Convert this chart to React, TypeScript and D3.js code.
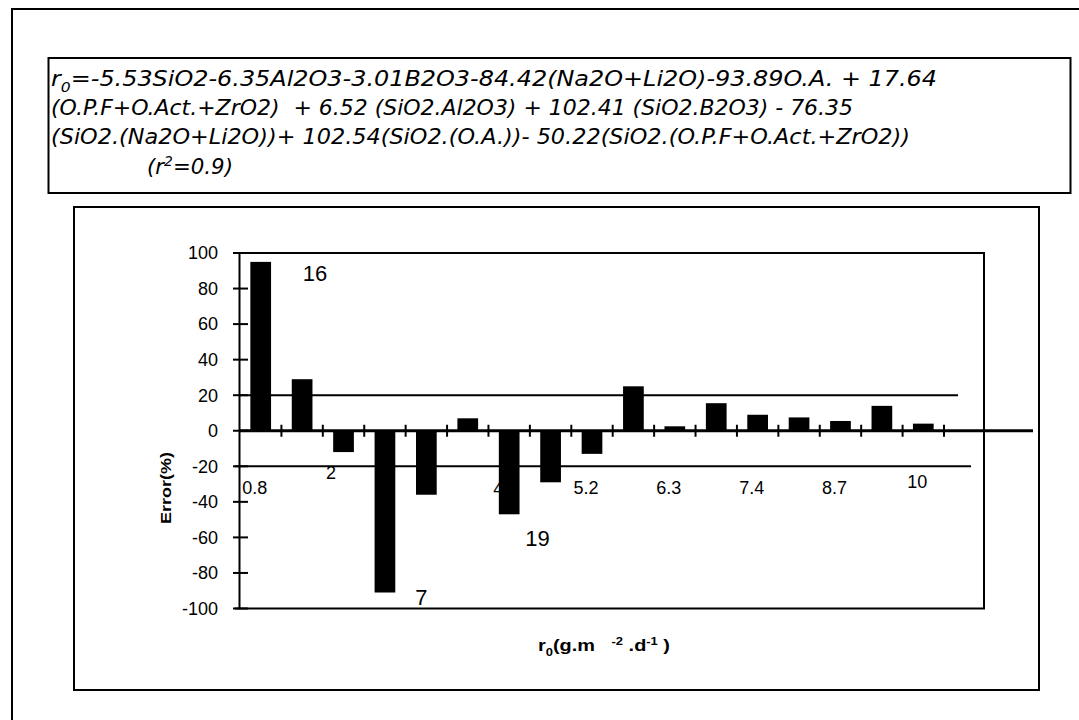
import React from "react";
import * as d3 from "d3";

// Relative error (%) of the fitted dissolution rate, one bar per glass, sorted by r0
const errorPct = [95, 29, -12, -91, -36, 7, -47, -29, -13, 25, 2.5, 15.5, 9, 7.5, 5.5, 14, 4];
// r0 values printed under selected bars
const r0Labels = ["0.8", "", "2", "", "", "", "4", "", "5.2", "", "6.3", "", "7.4", "", "8.7", "", "10"];
const yTickValues = [-100, -80, -60, -40, -20, 0, 20, 40, 60, 80, 100];
const limitValues = [20, -20];
// glass numbers written next to the worst-fitted bars
const sampleTags = [
  { index: 0, tag: "16" },
  { index: 3, tag: "7" },
  { index: 6, tag: "19" },
];

type Seg = { t: string; s?: "sub" | "sup" };
const equationLines: Seg[][] = [
  [{ t: "r" }, { t: "0", s: "sub" }, { t: "=-5.53SiO2-6.35Al2O3-3.01B2O3-84.42(Na2O+Li2O)-93.89O.A. + 17.64" }],
  [{ t: "(O.P.F+O.Act.+ZrO2)  + 6.52 (SiO2.Al2O3) + 102.41 (SiO2.B2O3) - 76.35" }],
  [{ t: "(SiO2.(Na2O+Li2O))+ 102.54(SiO2.(O.A.))- 50.22(SiO2.(O.P.F+O.Act.+ZrO2))" }],
  [{ t: "(r" }, { t: "2", s: "sup" }, { t: "=0.9)" }],
];
const xTitle: Seg[] = [
  { t: "r" }, { t: "0", s: "sub" }, { t: "(g.m   " }, { t: "-2", s: "sup" }, { t: " .d" }, { t: "-1", s: "sup" }, { t: " )" },
];

// ---- layout ----
const W = 1079;
const H = 720;
const eqLayout = [
  { x: 51, y: 86, w: 886 },
  { x: 51, y: 115, w: 802 },
  { x: 51, y: 144, w: 859 },
  { x: 147, y: 174, w: 86 },
];
const plot = { left: 240, right: 944, top: 253, bottom: 608.5, frameRight: 984, axisEnd: 1033 };
const limitExtent: Record<string, [number, number]> = { "20": [240, 958], "-20": [235, 971] };
const tagOffsets = [
  { dx: 44, dy: 11 },
  { dx: 26, dy: 5 },
  { dx: 18, dy: 24 },
];
const labelNudge: Record<string, { dx: number; cy: number }> = {
  "2": { dx: -12.5, cy: 473 },
  "4": { dx: -11, cy: 489 },
  "10": { dx: -6, cy: 482 },
};

function Segs({ segs, size }: { segs: Seg[]; size: number }) {
  const shift = size * 0.3;
  const out: React.ReactNode[] = [];
  let cur = 0;
  segs.forEach((sg, k) => {
    const target = sg.s === "sub" ? shift : sg.s === "sup" ? -size * 0.4 : 0;
    const dy = target - cur;
    cur = target;
    out.push(
      <tspan key={k} dy={dy || undefined} fontSize={sg.s ? size * 0.65 : undefined}>
        {sg.t}
      </tspan>
    );
  });
  return <>{out}</>;
}

export default function App() {
  const idx = d3.range(errorPct.length);
  const x = d3
    .scaleBand<number>()
    .domain(idx)
    .range([plot.left, plot.right])
    .paddingInner(0.5)
    .paddingOuter(0.25);
  const y = d3.scaleLinear().domain([-100, 100]).range([plot.bottom, plot.top]);
  const bw = x.bandwidth();
  const y0 = y(0);
  const boundaries = idx.map((i) => plot.left + (i + 1) * x.step());
  const sans = "'Liberation Sans', Arial, sans-serif";

  return (
    <svg
      width={W}
      height={H}
      viewBox={`0 0 ${W} ${H}`}
      style={{ position: "absolute", left: 0, top: 0, display: "block", background: "#fff" }}
    >
      <rect x={0} y={0} width={W} height={H} fill="#fff" />
      {/* page frame */}
      <path d={`M12,${H} V9 H${W}`} fill="none" stroke="#000" strokeWidth={2} />

      {/* regression equation box */}
      <rect x={48.5} y={58} width={1022} height={135} fill="none" stroke="#000" strokeWidth={2} />
      <g fontFamily="'DejaVu Sans', sans-serif" fontStyle="italic" fontSize={21} fill="#000">
        {equationLines.map((line, i) => (
          <text
            key={i}
            x={eqLayout[i].x}
            y={eqLayout[i].y}
            textLength={eqLayout[i].w}
            lengthAdjust="spacingAndGlyphs"
            style={{ whiteSpace: "pre" }}
          >
            <Segs segs={line} size={21} />
          </text>
        ))}
      </g>

      {/* chart box */}
      <rect x={74} y={207} width={965} height={483} fill="none" stroke="#000" strokeWidth={2} />

      {/* plot area border (top, right, bottom) */}
      <path
        d={`M235,${plot.top} H${plot.frameRight} V${plot.bottom} H235`}
        fill="none"
        stroke="#000"
        strokeWidth={2}
      />

      {/* ±20 % limits */}
      {limitValues.map((v) => (
        <line
          key={v}
          x1={limitExtent[String(v)][0]}
          x2={limitExtent[String(v)][1]}
          y1={y(v)}
          y2={y(v)}
          stroke="#000"
          strokeWidth={2}
        />
      ))}

      {/* r0 labels (drawn under the bars) */}
      <g fontFamily={sans} fontSize={18} fill="#000" textAnchor="middle">
        {r0Labels.map((lab, i) => {
          if (!lab) return null;
          const n = labelNudge[lab] || { dx: -6, cy: 488 };
          return (
            <text key={i} x={(x(i) as number) + bw / 2 + n.dx} y={n.cy} dy="0.35em">
              {lab}
            </text>
          );
        })}
      </g>

      {/* bars */}
      {errorPct.map((v, i) => (
        <rect
          key={i}
          x={x(i)}
          width={bw}
          y={Math.min(y(v), y0)}
          height={Math.abs(y(v) - y0)}
          fill="#000"
        />
      ))}

      {/* y axis */}
      <line x1={239.5} x2={239.5} y1={plot.top} y2={plot.bottom} stroke="#000" strokeWidth={2} />
      {yTickValues.map((t) => (
        <g key={t}>
          <line x1={233} x2={248} y1={y(t)} y2={y(t)} stroke="#000" strokeWidth={2} />
          <text x={218} y={y(t)} dy="0.35em" textAnchor="end" fontFamily={sans} fontSize={18} fill="#000">
            {t}
          </text>
        </g>
      ))}

      {/* zero axis with category ticks */}
      <line x1={plot.left} x2={plot.axisEnd} y1={y0} y2={y0} stroke="#000" strokeWidth={3} />
      {boundaries.map((bx, i) => (
        <line key={i} x1={bx} x2={bx} y1={y0 - 6} y2={y0 + 6} stroke="#000" strokeWidth={2} />
      ))}

      {/* glass numbers */}
      <g fontFamily={sans} fontSize={22} fill="#000" textAnchor="middle">
        {sampleTags.map((s, k) => (
          <text
            key={s.tag}
            x={(x(s.index) as number) + bw + tagOffsets[k].dx}
            y={y(errorPct[s.index]) + tagOffsets[k].dy}
            dy="0.35em"
          >
            {s.tag}
          </text>
        ))}
      </g>

      {/* axis titles */}
      <text
        x={604}
        y={651}
        textAnchor="middle"
        fontFamily={sans}
        fontWeight="bold"
        fontSize={16}
        textLength={132}
        lengthAdjust="spacingAndGlyphs"
        style={{ whiteSpace: "pre" }}
      >
        <Segs segs={xTitle} size={16} />
      </text>
      <text
        transform="translate(166,488) rotate(-90)"
        textAnchor="middle"
        dy="0.35em"
        fontFamily={sans}
        fontWeight="bold"
        fontSize={15}
        textLength={72}
        lengthAdjust="spacingAndGlyphs"
      >
        Error(%)
      </text>
    </svg>
  );
}
